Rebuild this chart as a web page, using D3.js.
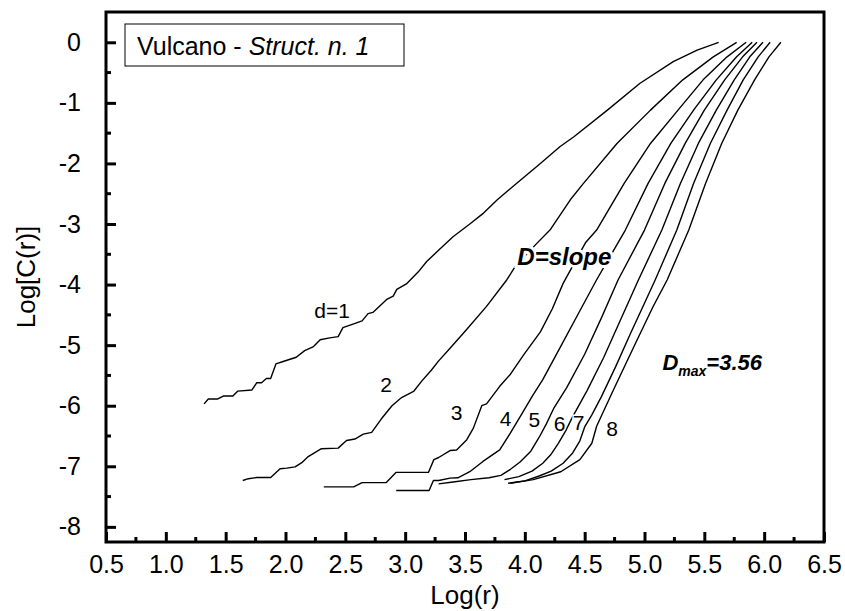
<!DOCTYPE html>
<html>
<head>
<meta charset="utf-8">
<script src="https://cdn.jsdelivr.net/npm/d3@7"></script>
<style>
  body { margin: 0; background: #fff; }
  text { font-family: Arial, "Liberation Sans", sans-serif; fill: #000; }
</style>
</head>
<body>
<svg id="chart" width="845" height="611"></svg>
<script>
var xTicks = [0.5, 1.0, 1.5, 2.0, 2.5, 3.0, 3.5, 4.0, 4.5, 5.0, 5.5, 6.0, 6.5];
var yTicks = [0, -1, -2, -3, -4, -5, -6, -7, -8];
var curveNames = ["d=1", "2", "3", "4", "5", "6", "7", "8"];

// Log(r), Log[C(r)] pairs
var d1 = [[1.32,-5.97],[1.355,-5.89],[1.43,-5.89],[1.48,-5.84],[1.56,-5.84],[1.60,-5.76],[1.72,-5.74],[1.76,-5.62],[1.80,-5.62],[1.84,-5.55],[1.876,-5.55],[1.92,-5.31],[1.98,-5.27],[2.09,-5.20],[2.16,-5.09],[2.23,-5.03],[2.29,-4.91],[2.37,-4.88],[2.44,-4.86],[2.48,-4.71],[2.57,-4.65],[2.64,-4.60],[2.69,-4.48],[2.73,-4.46],[2.85,-4.24],[2.90,-4.19],[2.93,-4.08],[3.01,-3.99],[3.11,-3.79],[3.18,-3.62],[3.27,-3.45],[3.40,-3.21],[3.54,-3.00],[3.655,-2.82],[3.77,-2.60],[3.93,-2.33],[4.13,-2.0],[4.295,-1.72],[4.41,-1.56],[4.69,-1.12],[4.96,-0.68],[5.24,-0.32],[5.44,-0.13],[5.62,0.0]];
var d2 = [[1.643,-7.234],[1.69,-7.205],[1.76,-7.185],[1.876,-7.185],[1.955,-7.04],[2.01,-7.03],[2.08,-7.01],[2.136,-6.94],[2.19,-6.84],[2.30,-6.71],[2.44,-6.70],[2.51,-6.575],[2.58,-6.55],[2.65,-6.47],[2.72,-6.44],[2.80,-6.22],[2.89,-6.00],[2.97,-5.865],[3.07,-5.765],[3.14,-5.59],[3.22,-5.41],[3.28,-5.26],[3.375,-5.05],[3.51,-4.75],[3.68,-4.36],[3.85,-3.92],[3.92,-3.70],[4.10,-3.32],[4.21,-3.10],[4.38,-2.60],[4.49,-2.33],[4.77,-1.67],[5.05,-1.12],[5.32,-0.62],[5.575,-0.24],[5.77,0.0]];
var d3v = [[2.32,-7.34],[2.57,-7.34],[2.64,-7.27],[2.84,-7.27],[2.925,-7.10],[3.195,-7.10],[3.24,-6.89],[3.28,-6.855],[3.375,-6.74],[3.43,-6.73],[3.515,-6.56],[3.57,-6.37],[3.64,-6.00],[3.68,-5.97],[3.79,-5.68],[3.88,-5.48],[3.99,-5.16],[4.13,-4.78],[4.23,-4.40],[4.32,-3.98],[4.42,-3.62],[4.51,-3.30],[4.60,-3.10],[4.83,-2.33],[5.05,-1.67],[5.28,-1.12],[5.49,-0.62],[5.69,-0.24],[5.85,0.0]];
var d4 = [[2.925,-7.40],[3.20,-7.40],[3.236,-7.235],[3.28,-7.235],[3.375,-7.195],[3.44,-7.19],[3.54,-7.09],[3.65,-6.92],[3.79,-6.73],[3.88,-6.45],[3.97,-6.15],[4.06,-5.85],[4.15,-5.57],[4.30,-5.02],[4.45,-4.47],[4.60,-3.92],[4.84,-3.10],[5.03,-2.33],[5.22,-1.67],[5.41,-1.12],[5.60,-0.62],[5.77,-0.24],[5.90,0.0]];
var d5 = [[3.28,-7.29],[3.40,-7.26],[3.55,-7.22],[3.70,-7.19],[3.80,-7.15],[3.88,-7.05],[3.96,-6.93],[4.05,-6.75],[4.12,-6.52],[4.18,-6.30],[4.24,-6.05],[4.35,-5.70],[4.50,-5.15],[4.64,-4.55],[4.78,-3.92],[5.00,-3.10],[5.17,-2.33],[5.34,-1.67],[5.50,-1.12],[5.67,-0.62],[5.82,-0.24],[5.94,0.0]];
var d6 = [[3.83,-7.22],[3.95,-7.17],[4.06,-7.08],[4.15,-6.95],[4.22,-6.80],[4.28,-6.62],[4.34,-6.42],[4.40,-6.18],[4.52,-5.75],[4.66,-5.20],[4.80,-4.58],[4.95,-3.92],[5.145,-3.10],[5.30,-2.33],[5.45,-1.67],[5.60,-1.12],[5.75,-0.62],[5.88,-0.24],[5.99,0.0]];
var d7 = [[3.86,-7.28],[4.0,-7.24],[4.12,-7.16],[4.22,-7.08],[4.32,-6.95],[4.40,-6.78],[4.46,-6.58],[4.50,-6.35],[4.56,-6.15],[4.64,-5.85],[4.76,-5.35],[4.88,-4.82],[4.99,-4.35],[5.09,-3.92],[5.27,-3.10],[5.41,-2.33],[5.55,-1.67],[5.69,-1.12],[5.825,-0.62],[5.95,-0.24],[6.05,0.0]];
var d8 = [[3.88,-7.28],[4.07,-7.22],[4.30,-7.09],[4.46,-6.89],[4.56,-6.62],[4.60,-6.34],[4.74,-5.74],[4.91,-5.03],[5.07,-4.37],[5.19,-3.92],[5.37,-3.10],[5.51,-2.33],[5.645,-1.67],[5.78,-1.12],[5.92,-0.62],[6.04,-0.24],[6.14,0.0]];

// where each curve's label sits (data coords, text baseline)
var labelX = [2.39, 2.84, 3.43, 3.84, 4.08, 4.29, 4.45, 4.73];
var labelY = [-4.55, -5.77, -6.23, -6.33, -6.35, -6.41, -6.40, -6.50];

var allCurves = [d1, d2, d3v, d4, d5, d6, d7, d8];

var svg = d3.select("#chart"),
    W = +svg.attr("width"), H = +svg.attr("height"),
    M = {top: 12, right: 21, bottom: 69, left: 106};

var x = d3.scaleLinear().domain([0.5, 6.5]).range([M.left, W - M.right]);
var y = d3.scaleLinear().domain([-8.25, 0.5]).range([H - M.bottom, M.top]);

// curves
var line = d3.line().x(function(d) { return x(d[0]); }).y(function(d) { return y(d[1]); });
svg.append("g").selectAll("path")
  .data(allCurves)
  .enter().append("path")
  .attr("d", line)
  .attr("fill", "none")
  .attr("stroke", "#000")
  .attr("stroke-width", 1.4)
  .attr("stroke-linejoin", "round");

// minor ticks
var xMinor = d3.range(0.75, 6.5, 0.5);
var yMinor = d3.range(-7.5, 0.5, 1);

var xAxis = d3.axisBottom(x).tickValues(xTicks).tickFormat(d3.format(".1f")).tickSizeInner(-10).tickSizeOuter(0).tickPadding(13);
var yAxis = d3.axisLeft(y).tickValues(yTicks).tickFormat(function(d) { return d; }).tickSizeInner(-10).tickSizeOuter(0).tickPadding(25);

var gx = svg.append("g").attr("transform", "translate(0," + (H - M.bottom) + ")").call(xAxis);
var gy = svg.append("g").attr("transform", "translate(" + M.left + ",0)").call(yAxis);
[gx, gy].forEach(function(g) {
  g.select(".domain").remove();
  g.selectAll(".tick line").attr("stroke", "#000").attr("stroke-width", 3);
  g.selectAll(".tick text").style("font-size", "25px").attr("fill", "#000");
});
gx.selectAll(".tick text").attr("dy", "0.71em");

svg.append("g").selectAll("line").data(xMinor).enter().append("line")
  .attr("x1", function(d) { return x(d); }).attr("x2", function(d) { return x(d); })
  .attr("y1", H - M.bottom).attr("y2", H - M.bottom - 5)
  .attr("stroke", "#000").attr("stroke-width", 3);
svg.append("g").selectAll("line").data(yMinor).enter().append("line")
  .attr("y1", function(d) { return y(d); }).attr("y2", function(d) { return y(d); })
  .attr("x1", M.left).attr("x2", M.left + 5)
  .attr("stroke", "#000").attr("stroke-width", 3);

// frame
svg.append("rect")
  .attr("x", M.left).attr("y", M.top)
  .attr("width", W - M.left - M.right).attr("height", H - M.top - M.bottom)
  .attr("fill", "none").attr("stroke", "#000").attr("stroke-width", 3);

// axis titles
svg.append("text").attr("x", x(3.5)).attr("y", 604).attr("text-anchor", "middle")
  .style("font-size", "26px").text("Log(r)");
svg.append("text").attr("transform", "translate(35," + ((M.top + H - M.bottom) / 2) + ") rotate(-90)")
  .attr("text-anchor", "middle").style("font-size", "26px").text("Log[C(r)]");

// title box
svg.append("rect").attr("x", M.left + 19).attr("y", 24).attr("width", 279).attr("height", 42)
  .attr("fill", "#fff").attr("stroke", "#000").attr("stroke-width", 1);
var tt = svg.append("text").attr("x", M.left + 31).attr("y", 55).style("font-size", "25px");
tt.append("tspan").text("Vulcano - ");
tt.append("tspan").style("font-style", "italic").text("Struct. n. 1");

// curve labels
svg.append("g").selectAll("text").data(curveNames).enter().append("text")
  .attr("x", function(d, i) { return x(labelX[i]); })
  .attr("y", function(d, i) { return y(labelY[i]); })
  .attr("text-anchor", "middle")
  .style("font-size", "21px")
  .attr("stroke", "#fff").attr("stroke-width", 3).attr("paint-order", "stroke")
  .text(function(d) { return d; });

svg.append("text").attr("x", x(4.33)).attr("y", y(-3.675)).attr("text-anchor", "middle")
  .style("font-size", "24px").style("font-weight", "bold").style("font-style", "italic")
  .attr("stroke", "#fff").attr("stroke-width", 6).attr("paint-order", "stroke")
  .text("D=slope");

var dm = svg.append("text").attr("x", x(5.15)).attr("y", y(-5.41))
  .style("font-size", "22px").style("font-weight", "bold").style("font-style", "italic");
dm.append("tspan").text("D");
dm.append("tspan").attr("dy", 6).style("font-size", "14px").text("max");
dm.append("tspan").attr("dy", -6).text("=3.56");
</script>
</body>
</html>
